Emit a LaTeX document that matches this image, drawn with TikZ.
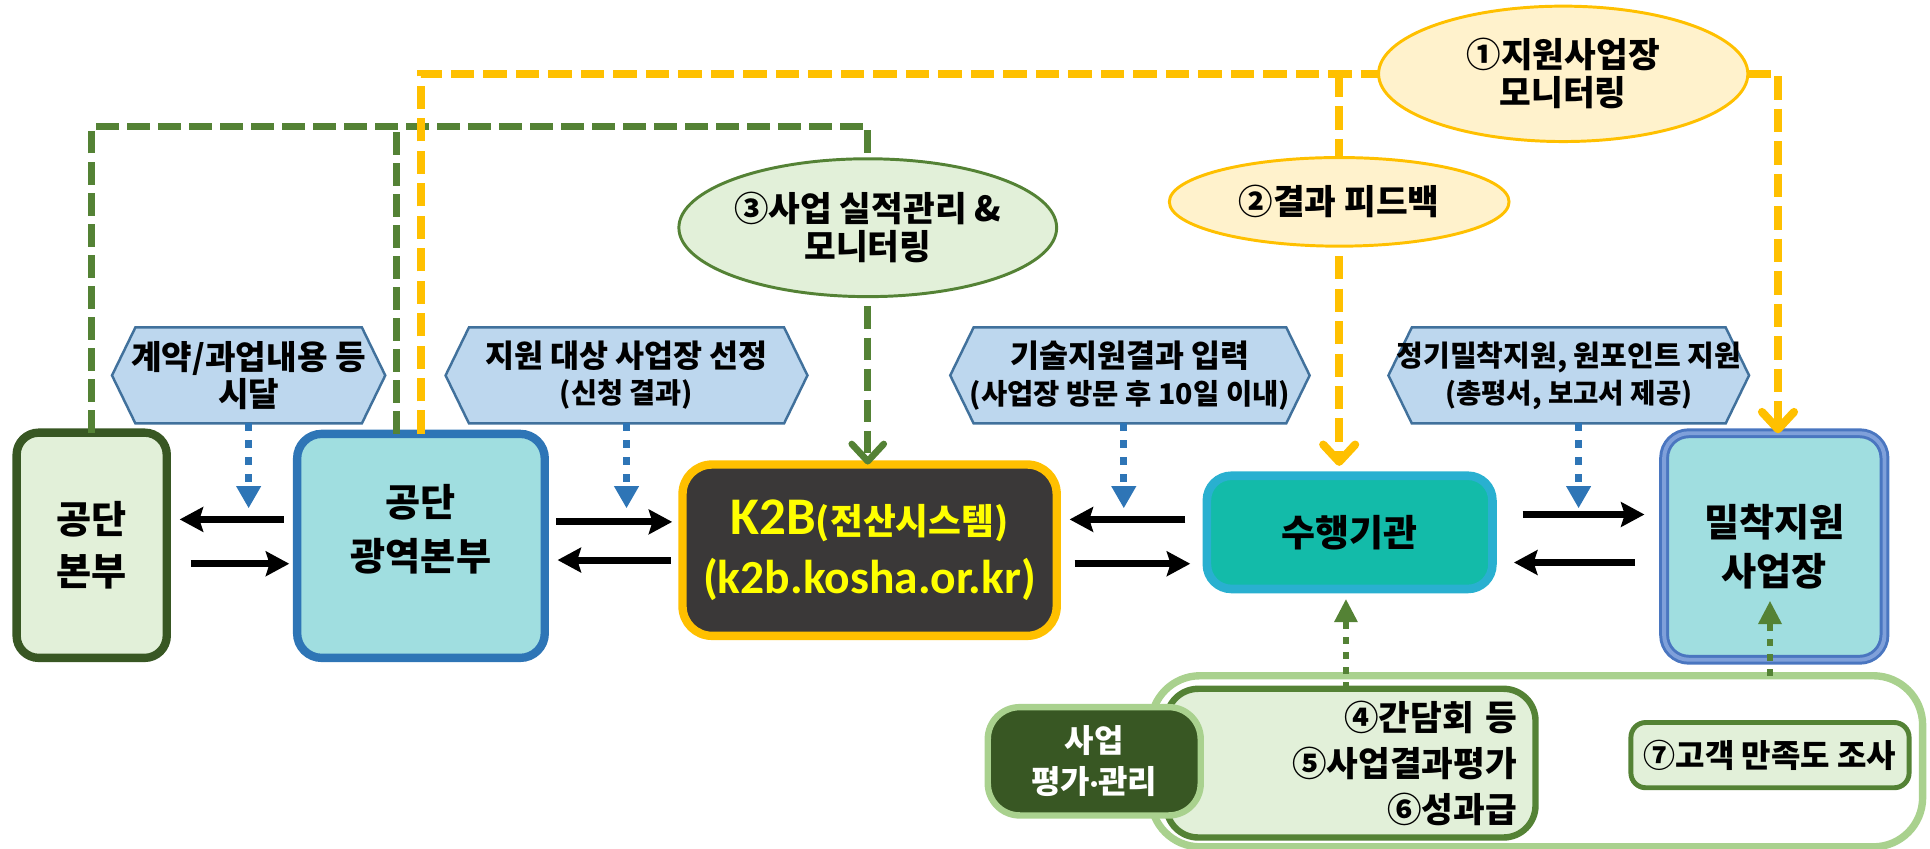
\documentclass[tikz,border=0pt]{standalone}
\usepackage{fontspec}
\setmainfont{Noto Sans CJK KR}
\newfontfamily\carl{Carlito}
\usetikzlibrary{arrows.meta,calc,backgrounds,shapes.geometric}
\definecolor{lgreen}{HTML}{E2F0D9}
\definecolor{dgreen}{HTML}{385723}
\definecolor{mgreen}{HTML}{548235}
\definecolor{pgreen}{HTML}{A9D18E}
\definecolor{lcyan}{HTML}{A0DEE0}
\definecolor{bblue}{HTML}{2E75B6}
\definecolor{hexfill}{HTML}{BDD7EE}
\definecolor{hexline}{HTML}{41719C}
\definecolor{kdark}{HTML}{3A3838}
\definecolor{gold}{HTML}{FFC000}
\definecolor{kyel}{HTML}{FFFF00}
\definecolor{tealb}{HTML}{13BBA9}
\definecolor{sky}{HTML}{29B0D0}
\definecolor{lyel}{HTML}{FFF2CC}
\definecolor{milb}{HTML}{4A76C0}
\definecolor{milbb}{HTML}{7FA0DA}
\newcommand\fsz[2]{\fontsize{#1}{#2}\selectfont}
\newcommand\hexshape[2]{%
  \path[hexst] ($(#1.north west)+(#2,0)$) -- ($(#1.north east)+(-#2,0)$) -- (#1.east)
    -- ($(#1.south east)+(-#2,0)$) -- ($(#1.south west)+(#2,0)$) -- (#1.west) -- cycle;}
\begin{document}
\begin{tikzpicture}[x=0.5pt,y=-0.5pt,
  every node/.style={outer sep=0pt, inner sep=0pt},
  bx/.style={rectangle, rounded corners=#1, align=center},
  hexn/.style={rectangle, minimum height=39pt, align=center},
  hexst/.style={fill=hexfill, draw=hexline, line width=1pt},
  ell/.style={ellipse, line width=1.2pt, align=center, font=\fsz{14}{15.5}\bfseries},
  blk/.style={line width=2.85pt, -{Stealth[length=9.5pt,width=10pt,inset=1.5pt]}},
  gdash/.style={draw=mgreen, line width=2.7pt, dash pattern=on 9.3pt off 3.3pt},
  ydash/.style={draw=gold, line width=3.3pt, dash pattern=on 9.5pt off 3.7pt},
  barb/.style={-{Straight Barb[length=7pt,width=13pt,round]}},
  bdot/.style={draw=bblue, line width=2.85pt, dash pattern=on 2.9pt off 4pt, -{Triangle[length=9pt,width=9.5pt]}},
  gdot/.style={draw=mgreen, line width=2.6pt, dash pattern=on 2.8pt off 3.3pt, -{Triangle[length=9.5pt,width=9pt]}}
]
\useasboundingbox (0,0) rectangle (1568,689);

% main boxes
\node[bx=9pt, draw=dgreen, fill=lgreen, line width=3.4pt, minimum width=61pt, minimum height=91.5pt,
  font=\fsz{15.5}{21}\bfseries] (hq) at (74.5,443) {공단\\본부};
\node[bx=10pt, draw=bblue, fill=lcyan, line width=3.4pt, minimum width=100.6pt, minimum height=91pt] (kwang) at (342,443.5) {};
\node[align=center, font=\fsz{15.5}{22}\bfseries] (kwangtxt) at (342,430) {공단\\광역본부};
\node[bx=12pt, draw=gold, fill=kdark, line width=3.4pt, minimum width=152pt, minimum height=69.6pt,
  text=kyel, font=\fsz{15}{24}\bfseries] (k2b) at (706.5,447)
  {{\carl\fsz{21.5}{24}\bfseries K2B}{\fsz{14.5}{24}\bfseries(전산시스템)}\\{\carl\fsz{19.3}{24}\bfseries(k2b.kosha.or.kr)}};
\node[bx=10pt, draw=sky, fill=tealb, line width=3.5pt, minimum width=116pt, minimum height=46pt,
  font=\fsz{15}{18}\bfseries] (su) at (1096.5,432.5) {수행기관};
\node[bx=10pt, draw=milb, double=milbb, double distance=1.6pt, line width=1.2pt, fill=lcyan,
  minimum width=89.5pt, minimum height=92pt, font=\fsz{15.5}{20}\bfseries] (mil) at (1441.5,444) {밀착지원\\사업장};

% ellipses
\node[ell, draw=mgreen, fill=lgreen, minimum width=150pt, minimum height=56pt] (e3) at (705,185) {③사업 실적관리 \&\\모니터링};
\node[ell, draw=gold, fill=lyel, minimum width=138pt, minimum height=36pt] (e2) at (1088,164) {②결과 피드백};
\node[ell, draw=gold, fill=lyel, minimum width=150pt, minimum height=55pt] (e1) at (1270,60) {①지원사업장\\모니터링};

% hexagon labels
\node[hexn, minimum width=111pt, font=\fsz{13.5}{15}\bfseries] (h1) at (202,305) {계약/과업내용 등\\시달};
\node[hexn, minimum width=147pt, font=\fsz{12}{14.5}\bfseries] (h2) at (509,305)
  {{\fsz{12.8}{14.5}\bfseries 지원 대상 사업장 선정}\\{\fsz{11.5}{14.5}\bfseries(신청 결과)}};
\node[hexn, minimum width=146pt, font=\fsz{12}{15}\bfseries] (h3) at (918,305)
  {{\fsz{12.8}{15}\bfseries 기술지원결과 입력}\\{\fsz{11.6}{15}\bfseries(사업장 방문 후 10일 이내)}};
\node[hexn, minimum width=146.5pt, font=\fsz{12}{15}\bfseries] (h4) at (1274.5,305)
  {{\fsz{11.8}{15}\bfseries 정기밀착지원, 원포인트 지원}\\{\fsz{11.2}{15}\bfseries(총평서, 보고서 제공)}};
\begin{pgfonlayer}{background}
  \hexshape{h1}{19}\hexshape{h2}{19}\hexshape{h3}{19}\hexshape{h4}{19}
\end{pgfonlayer}

% bottom group
\node[bx=20pt, draw=pgreen, line width=3pt, minimum width=313.5pt, minimum height=69.5pt] (outer) at (1248.5,618.5) {};
\node[bx=13pt, draw=mgreen, fill=lgreen, line width=2.6pt, minimum width=150pt, minimum height=60.4pt,
  text width=135pt, inner xsep=7.5pt, align=right, font=\fsz{14}{18.75}\bfseries] (inner) at (1097.5,620)
  {④간담회 등\\⑤사업결과평가\\⑥성과급};
\node[bx=13pt, draw=pgreen, fill=dgreen, line width=2.6pt, minimum width=86.5pt, minimum height=44pt,
  text=white, font=\fsz{13}{16.5}\bfseries] (sa) at (889,618.5) {사업\\평가{\carl\bfseries ·}관리};
\node[bx=6pt, draw=mgreen, fill=lgreen, line width=2pt, minimum width=113pt, minimum height=26.5pt,
  font=\fsz{13}{16}\bfseries] (q7) at (1438,613.5) {⑦고객 만족도 조사};

% helper coordinates
\coordinate (yT) at (0,60);
\coordinate (gT) at (0,103);
\coordinate (bE) at (0,413);
\coordinate (r1) at (0,422);
\coordinate (r2) at (0,458);
\coordinate (r3) at (0,424);
\coordinate (r4) at (0,455);
\coordinate (r7) at (0,418);
\coordinate (r8) at (0,457);

% green dashed
\draw[gdash] (hq.north) -- (hq.north |- gT) -- (e3.north |- gT) -- (e3.north);
\draw[gdash] ($(kwang.north)+(-20,0)$) coordinate (kg) -- (kg |- gT);
\draw[gdash, barb] ($(e3.south)+(0,8)$) -- (e3.south |- k2b.north);

% yellow dashed
\draw[ydash] (kwang.north) -- (kwang.north |- yT) -- (e1.west);
\draw[ydash] (e2.north |- yT) -- (e2.north);
\draw[ydash, barb, shorten >=4pt] ($(e2.south)+(0,8)$) -- (e2.south |- su.north);
\draw[ydash, barb] (e1.east) -| ($(mil.north)+(3,0)$);

% blue dotted
\draw[bdot] (h1.south) -- (h1.south |- bE);
\draw[bdot] (h2.south) -- (h2.south |- bE);
\draw[bdot] ($(h3.south)+(-5,0)$) coordinate (h3s) -- (h3s |- bE);
\draw[bdot] ($(h4.south)+(8,0)$) coordinate (h4s) -- (h4s |- bE);

% black arrows
\draw[blk] ($(kwang.west |- r1)+(-11,0)$) -- ($(hq.east |- r1)+(10.5,0)$);
\draw[blk] ($(hq.east |- r2)+(19.5,0)$) -- ($(kwang.west |- r2)+(-6.4,0)$);
\draw[blk] ($(kwang.east |- r3)+(9.4,0)$) -- ($(k2b.west |- r3)+(-8.4,0)$);
\draw[blk] ($(k2b.west |- r4)+(-9.5,0)$) -- ($(kwang.east |- r4)+(10.4,0)$);
\draw[blk] ($(su.west |- r1)+(-17.5,0)$) -- ($(k2b.east |- r1)+(10.5,0)$);
\draw[blk] ($(k2b.east |- r2)+(14.5,0)$) -- ($(su.west |- r2)+(-13.5,0)$);
\draw[blk] ($(su.east |- r7)+(24.5,0)$) -- ($(mil.west |- r7)+(-16,0)$);
\draw[blk] ($(mil.west |- r8)+(-24,0)$) -- ($(su.east |- r8)+(17.5,0)$);

% green dotted up arrows
\draw[gdot] ($(inner.north)+(-4,0)$) -- ($(inner.north |- su.south)+(-4,8)$);
\draw[gdot] (q7.north |- outer.north) -- ($(mil.south)+(-3.5,-48)$);
\end{tikzpicture}
\end{document}
